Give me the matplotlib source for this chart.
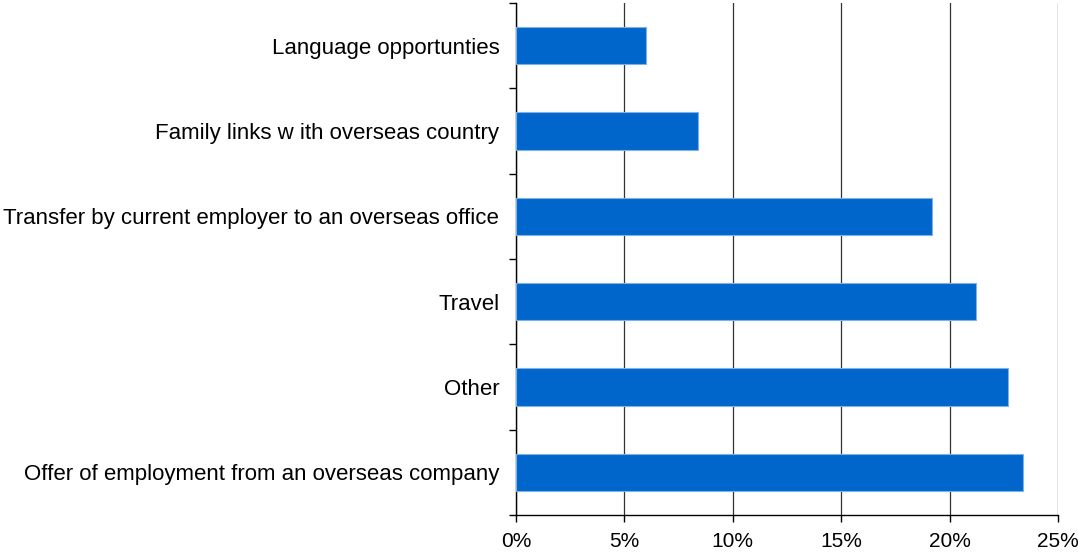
import numpy as np
import matplotlib.pyplot as plt
from matplotlib.ticker import PercentFormatter

plt.rcParams['font.family'] = ['Liberation Sans', 'DejaVu Sans']

reasons = ['Offer of employment from an overseas company', 'Other', 'Travel',
           'Transfer by current employer to an overseas office',
           'Family links w ith overseas country', 'Language opportunties']
shares = [23.4, 22.7, 21.2, 19.2, 8.4, 6.0]

fig = plt.figure(figsize=(10.78, 5.55), dpi=100)
ax = fig.add_axes([0.4787, 0.072, 0.5027, 0.9226])

pos = np.arange(len(reasons))
ax.barh(pos, shares, height=0.44, color='#0066CC', edgecolor='#7FB0E6',
        linewidth=0.8, zorder=3)

ax.set_xlim(0, 25)
ax.set_ylim(-0.5, len(reasons) - 0.5)
ax.set_xticks(np.arange(0, 26, 5))
ax.xaxis.set_major_formatter(PercentFormatter(decimals=0))
ax.grid(axis='x', color='#333333', linewidth=0.9, zorder=1)

ax.set_yticks(pos)
ax.set_yticklabels(reasons)
ax.set_yticks(np.arange(-0.5, len(reasons)), minor=True)
ax.tick_params(axis='y', which='major', length=0, pad=12, labelsize=16)
ax.tick_params(axis='y', which='minor', length=5, width=1, direction='out')
ax.tick_params(axis='x', length=5, width=1, direction='out', pad=7, labelsize=15)

for s in ['top', 'right']:
    ax.spines[s].set_visible(False)
for s in ['left', 'bottom']:
    ax.spines[s].set_linewidth(1)
    ax.spines[s].set_color('black')

fig.savefig('out.png', dpi=100)
